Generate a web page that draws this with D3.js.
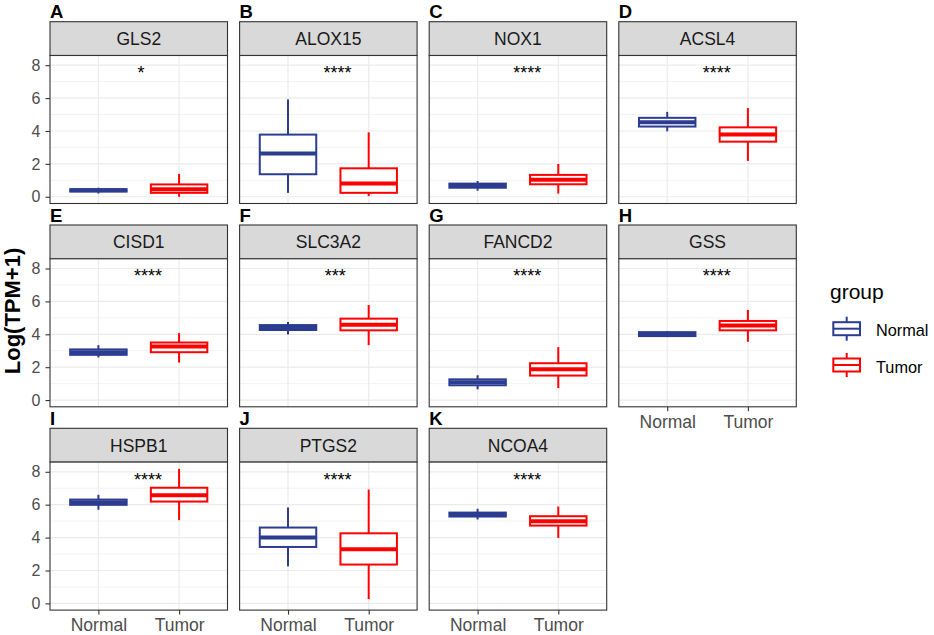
<!DOCTYPE html>
<html>
<head>
<meta charset="utf-8">
<script src="https://cdn.jsdelivr.net/npm/d3@7"></script>
<style>
  body { margin: 0; background: #fff; }
  svg { font-family: "Liberation Sans", Arial, sans-serif; }
</style>
</head>
<body>
<svg id="chart" width="934" height="635"></svg>
<script>
// ---- data ----
const genes = ["GLS2", "ALOX15", "NOX1", "ACSL4", "CISD1", "SLC3A2", "FANCD2", "GSS", "HSPB1", "PTGS2", "NCOA4"];
const tags = ["A", "B", "C", "D", "E", "F", "G", "H", "I", "J", "K"];
const signif = ["*", "****", "****", "****", "****", "***", "****", "****", "****", "****", "****"];
const groups = ["Normal", "Tumor"];
// [lower whisker, q1, median, q3, upper whisker]
const normalStats = [
  [0.20, 0.32, 0.40, 0.46, 0.55],
  [0.24, 1.37, 2.63, 3.78, 5.92],
  [0.37, 0.55, 0.67, 0.80, 0.96],
  [3.98, 4.27, 4.53, 4.80, 5.16],
  [2.59, 2.75, 2.91, 3.08, 3.34],
  [3.99, 4.26, 4.42, 4.56, 4.75],
  [0.65, 0.90, 1.08, 1.26, 1.51],
  [3.83, 3.89, 4.01, 4.13, 4.20],
  [5.69, 5.99, 6.15, 6.31, 6.60],
  [2.25, 3.43, 4.00, 4.61, 5.83],
  [5.10, 5.28, 5.40, 5.52, 5.75]
];
const tumorStats = [
  [0.00, 0.24, 0.45, 0.75, 1.39],
  [0.04, 0.24, 0.80, 1.73, 3.92],
  [0.20, 0.76, 1.04, 1.33, 2.00],
  [2.18, 3.35, 3.78, 4.22, 5.39],
  [2.28, 2.91, 3.26, 3.50, 4.07],
  [3.34, 4.24, 4.58, 4.95, 5.78],
  [0.73, 1.49, 1.87, 2.24, 3.22],
  [3.54, 4.24, 4.54, 4.81, 5.48],
  [5.06, 6.19, 6.58, 7.03, 8.18],
  [0.26, 2.36, 3.29, 4.26, 6.92],
  [3.98, 4.73, 5.00, 5.30, 5.89]
];
const sigLabelY = 7.76;
const yTicks = [0, 2, 4, 6, 8];
const yMinor = [1, 3, 5, 7];

const colors = { Normal: "#2B3C91", Tumor: "#FF0000" };

// ---- layout ----
const ncol = 4;
const panelW = 177.5;
const colStep = 189.6;
const left0 = 50;
const top0 = 21.7;
const rowStep = 203.3;
const stripH = 33.8;
const plotH = 148;

const svg = d3.select("#chart");

// fixed y scale shared by every panel, 5% expansion like ggplot
const allVals = normalStats.concat(tumorStats).flat();
const yLo = d3.min(allVals), yHi = d3.max(allVals);
const pad = (yHi - yLo) * 0.05;
const y = d3.scaleLinear().domain([yLo - pad, yHi + pad]).range([plotH, 0]);

const x = d3.scalePoint().domain(groups).range([0, panelW]).padding(0.6);
const boxW = x.step() * 0.7;

genes.forEach(function(gene, i) {
  const row = Math.floor(i / ncol), col = i % ncol;
  const px = left0 + col * colStep;
  const py = top0 + row * rowStep;
  const g = svg.append("g").attr("transform", "translate(" + px + "," + py + ")");

  // tag letter
  g.append("text")
    .attr("x", 0).attr("y", -3.4)
    .attr("font-size", 18.5).attr("font-weight", "bold").attr("fill", "#000")
    .text(tags[i]);

  // strip
  g.append("rect")
    .attr("width", panelW).attr("height", stripH)
    .attr("fill", "#D9D9D9").attr("stroke", "#333").attr("stroke-width", 1.1);
  g.append("text")
    .attr("x", panelW / 2).attr("y", 23.3)
    .attr("text-anchor", "middle").attr("font-size", 17.5).attr("fill", "#1A1A1A")
    .text(gene);

  const p = g.append("g").attr("transform", "translate(0," + stripH + ")");
  p.append("rect").attr("width", panelW).attr("height", plotH).attr("fill", "#fff");

  // grid
  p.selectAll(".minor").data(yMinor).enter().append("line")
    .attr("x1", 0).attr("x2", panelW)
    .attr("y1", d => y(d)).attr("y2", d => y(d))
    .attr("stroke", "#EBEBEB").attr("stroke-width", 0.6);
  p.selectAll(".major").data(yTicks).enter().append("line")
    .attr("x1", 0).attr("x2", panelW)
    .attr("y1", d => y(d)).attr("y2", d => y(d))
    .attr("stroke", "#EBEBEB").attr("stroke-width", 1.2);
  p.selectAll(".vmajor").data(groups).enter().append("line")
    .attr("x1", d => x(d)).attr("x2", d => x(d))
    .attr("y1", 0).attr("y2", plotH)
    .attr("stroke", "#EBEBEB").attr("stroke-width", 1.2);

  // boxes
  const stats = [normalStats[i], tumorStats[i]];
  groups.forEach(function(grp, k) {
    const s = stats[k];
    const cx = x(grp);
    const b = p.append("g").attr("stroke", colors[grp]).attr("fill", "none");
    b.append("line").attr("x1", cx).attr("x2", cx)
      .attr("y1", y(s[0])).attr("y2", y(s[1])).attr("stroke-width", 2);
    b.append("line").attr("x1", cx).attr("x2", cx)
      .attr("y1", y(s[3])).attr("y2", y(s[4])).attr("stroke-width", 2);
    b.append("rect")
      .attr("x", cx - boxW / 2).attr("width", boxW)
      .attr("y", y(s[3])).attr("height", y(s[1]) - y(s[3]))
      .attr("fill", "#fff").attr("stroke-width", 2);
    b.append("line").attr("x1", cx - boxW / 2).attr("x2", cx + boxW / 2)
      .attr("y1", y(s[2])).attr("y2", y(s[2])).attr("stroke-width", 4);
  });

  // significance label
  const lab = p.append("text")
    .attr("y", y(sigLabelY) + 10)
    .attr("font-size", 18).attr("fill", "#000")
    .text(signif[i]);
  const lw = lab.node().getComputedTextLength();
  lab.attr("x", panelW / 2 - 0.17 * lw);

  // border
  p.append("rect").attr("width", panelW).attr("height", plotH)
    .attr("fill", "none").attr("stroke", "#333").attr("stroke-width", 1.1);

  // axes on outer panels
  if (col === 0) {
    const ya = p.append("g")
      .call(d3.axisLeft(y).tickValues(yTicks).tickSize(4.5).tickPadding(5).tickFormat(d3.format("d")));
    ya.select(".domain").remove();
    ya.selectAll("line").attr("stroke", "#333").attr("stroke-width", 1.1);
    ya.selectAll("text").attr("font-size", 16).attr("fill", "#4D4D4D")
      .attr("font-family", "Liberation Sans, Arial, sans-serif");
  }
  if (i + ncol >= genes.length) {
    const xa = p.append("g").attr("transform", "translate(0," + plotH + ")")
      .call(d3.axisBottom(x).tickSize(4.5).tickPadding(4));
    xa.select(".domain").remove();
    xa.selectAll("line").attr("stroke", "#333").attr("stroke-width", 1.1);
    xa.selectAll("text").attr("font-size", 17.5).attr("fill", "#4D4D4D")
      .attr("font-family", "Liberation Sans, Arial, sans-serif");
  }
});

// y axis title
svg.append("text")
  .attr("transform", "translate(20,311) rotate(-90)")
  .attr("text-anchor", "middle")
  .attr("font-size", 22).attr("font-weight", "bold").attr("fill", "#000")
  .text("Log(TPM+1)");

// legend
const leg = svg.append("g").attr("transform", "translate(830,0)");
leg.append("text").attr("x", 0).attr("y", 299)
  .attr("font-size", 21).attr("fill", "#000").text("group");
const keyY = d3.scalePoint().domain(groups).range([328.7, 365]);
groups.forEach(function(grp) {
  const cy = keyY(grp);
  const k = leg.append("g").attr("stroke", colors[grp]).attr("fill", "none").attr("stroke-width", 2);
  k.append("line").attr("x1", 16.7).attr("x2", 16.7).attr("y1", cy - 12).attr("y2", cy + 12);
  k.append("rect").attr("x", 3.3).attr("width", 26.7).attr("y", cy - 6.5).attr("height", 13).attr("fill", "#fff");
  k.append("line").attr("x1", 3.3).attr("x2", 30).attr("y1", cy).attr("y2", cy);
  leg.append("text").attr("x", 46).attr("y", cy + 7.5)
    .attr("font-size", 16.3).attr("fill", "#000").text(grp);
});
</script>
</body>
</html>
